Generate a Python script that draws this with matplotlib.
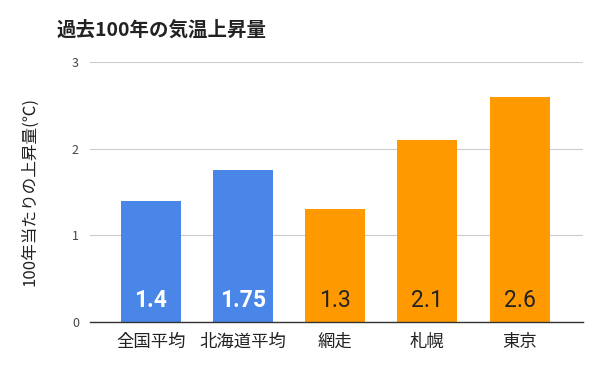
import matplotlib
matplotlib.use("Agg")
import matplotlib.pyplot as plt

plt.rcParams['font.family'] = ['Noto Sans CJK JP', 'DejaVu Sans']

categories = ['全国平均', '北海道平均', '網走', '札幌', '東京']
values = [1.4, 1.75, 1.3, 2.1, 2.6]
labels = ['1.4', '1.75', '1.3', '2.1', '2.6']
colors = ['#4a86e8', '#4a86e8', '#ff9900', '#ff9900', '#ff9900']
label_colors = ['white', 'white', '#222222', '#222222', '#222222']
yticks = [0, 1, 2, 3]

fig = plt.figure(figsize=(6, 3.71), dpi=100)
ax = fig.add_axes([0.15, 0.132, 0.822, 0.701])
x = range(len(categories))
bars = ax.bar(x, values, width=0.65, color=colors, zorder=2)
for i, (b, lab) in enumerate(zip(bars, labels)):
    ax.text(b.get_x() + b.get_width() / 2, 0.25, lab, ha='center', va='center',
            fontsize=16.5, color=label_colors[i], fontweight='bold' if i < 2 else 'normal',
            family='Roboto', zorder=3)
ax.set_xlim(-0.66, 4.69)
ax.set_ylim(0, 3)
ax.set_yticks(yticks)
ax.set_yticklabels([str(t) for t in yticks], fontsize=9, color='#444444')
ax.set_xticks(list(x))
ax.set_xticklabels(categories, fontsize=12.5, color='#222222')
ax.tick_params(axis='x', length=0, pad=8)
ax.tick_params(axis='y', length=0, pad=8)
ax.grid(axis='y', color='#cccccc', linewidth=0.8, zorder=0)
for s in ['top', 'right', 'left']:
    ax.spines[s].set_visible(False)
ax.spines['bottom'].set_color('#333333')
ax.spines['bottom'].set_linewidth(1)
ax.set_ylabel('100年当たりの上昇量(℃)', fontsize=12, color='#222222', labelpad=24)
fig.text(0.095, 0.918, '過去100年の気温上昇量', fontsize=14, fontweight='bold', color='#222222', va='center')
fig.savefig('out.png', dpi=100)
